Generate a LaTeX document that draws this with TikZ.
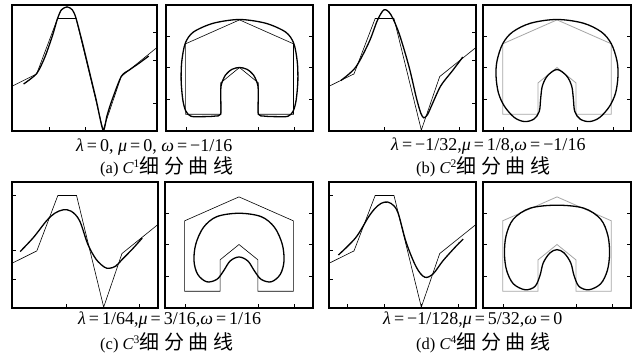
\documentclass[tikz,border=0pt]{standalone}
\usepackage{fontspec}
\setmainfont{Liberation Serif}
\newfontfamily\cjk{Noto Sans CJK SC}
\newcommand\LeftPoly{(0,64.5) -- (17,54.7) -- (31.4,10.7) -- (44.2,10.7) -- (62.8,99.3) -- (75.3,56.8) -- (100,33.7)}
\newcommand\ArchPoly{(13.3,86.7) -- (13.3,30.8) -- (50,11.8) -- (86.7,30.8) -- (86.7,86.7) -- (62.8,86.7) -- (62.8,61.8) -- (50,49.6) -- (37.2,61.8) -- (37.2,86.7) -- cycle}
\newcommand\BoxFrame{\draw[frame] (0,0) rectangle (100,100);}
\newcommand\CapA{\fontsize{18}{18}\selectfont}
\newcommand\CapB{\fontsize{16.5}{16.5}\selectfont}
\newcommand\Zh[4]{{\cjk\fontsize{20}{20}\selectfont #1\kern4.5pt#2\kern4.5pt#3\kern4.5pt#4}}
\begin{document}
\begin{tikzpicture}[x=1pt,y=-1pt,
  frame/.style={line width=2.2pt},
  poly/.style={line width=0.6pt},
  graypoly/.style={line width=0.8pt, gray!70},
  curv/.style={line width=1.3pt},
  tickmark/.style={line width=0.5pt},
  captext/.style={inner sep=0pt, anchor=base west},
]
\useasboundingbox[fill=white] (0,0) rectangle (636,356);

% ---------- (a) ----------
\begin{scope}[shift={(12,5)}, x=1.45pt, y=-1.26pt]
  \begin{scope}
    \clip (0,0) rectangle (100,100);
    \draw[poly] \LeftPoly;
    \draw[curv] plot[smooth, tension=0.45] coordinates {(8,62.7) (17,54.4) (22.7,41.3) (28,24) (31.4,10.7) (34.1,3.8) (38,1.5) (41.6,3.8) (44.2,10.7) (49,32) (53.4,53) (58,75) (62.8,99.3) (65.5,88) (68.5,77) (75.3,56.8) (81,51.5) (87.5,46.3) (94.3,40.5)};
  \end{scope}
  \foreach \u in {25.7,50.7} \draw[tickmark] (\u,100) -- (\u,97);
  \foreach \v in {22,44,78} \draw[tickmark] (100,\v) -- (97,\v);
  \BoxFrame
\end{scope}
\begin{scope}[shift={(166,5)}, x=1.47pt, y=-1.26pt]
  \draw[poly] \ArchPoly;
  \draw[curv] plot[smooth cycle, tension=0.5] coordinates {(50,11.5) (32.1,14.5) (18.6,21.5) (13.1,30.4) (10.7,45) (10.3,60) (11.4,75) (13.4,84) (17,88.3) (25,88.6) (33,88.2) (37.2,86.7) (37.3,76) (37.5,64) (40.5,55.5) (45,51) (50,49.6) (55,51) (59.5,55.5) (62.5,64) (62.7,76) (62.8,86.7) (67,88.2) (75,88.6) (83,88.3) (86.6,84) (88.6,75) (89.7,60) (89.3,45) (86.9,30.4) (81.4,21.5) (67.9,14.5)};
  \foreach \u in {13.5,63,87.5} \draw[tickmark] (\u,100) -- (\u,97);
  \foreach \v in {24.5,49.3,74.7} {\draw[tickmark] (0,\v) -- (3,\v); \draw[tickmark] (100,\v) -- (97,\v);}
  \BoxFrame
\end{scope}
\node[captext] (capa1) at (76,151) {\CapA{\itshape λ}\,=\,0, {\itshape μ}\,=\,0, {\itshape ω}\,=\,−1/16};
\node[captext] (capa2) at (100,173.5) {\CapB(a) {\itshape C}\textsuperscript{1}\Zh{细}{分}{曲}{线}};

% ---------- (b) ----------
\begin{scope}[shift={(329,5)}, x=1.47pt, y=-1.26pt]
  \begin{scope}
    \clip (0,0) rectangle (100,100);
    \draw[poly] \LeftPoly;
    \draw[curv] plot[smooth, tension=0.5] coordinates {(8,60) (18.2,49.3) (27.3,29.3) (33,12) (37.5,3.8) (42,7.5) (47.7,22.7) (54.5,49.3) (59.5,74) (62.5,86) (64.5,89.5) (67,87) (70.5,78) (76.1,64) (84.1,52) (91,41.3)};
  \end{scope}
  \foreach \u in {37.5,88.6} \draw[tickmark] (\u,100) -- (\u,97);
  \foreach \v in {22,44,78} \draw[tickmark] (100,\v) -- (97,\v);
  \BoxFrame
\end{scope}
\begin{scope}[shift={(483,5)}, x=1.48pt, y=-1.26pt]
  \draw[graypoly] \ArchPoly;
  \draw[curv] plot[smooth cycle, tension=0.55] coordinates {(50,11.5) (32.3,14.4) (20,21.4) (13.3,30.8) (9.5,44.2) (8.8,56.3) (10.4,69.7) (14.5,80.4) (21.2,89.3) (28,92.5) (34.3,90.6) (38,84.5) (39,73.7) (40.1,64.3) (43.5,56.3) (50,51.2) (56.5,56.3) (59.9,64.3) (61,73.7) (62,84.5) (65.7,90.6) (72,92.5) (78.8,89.3) (85.5,80.4) (89.6,69.7) (91.2,56.3) (90.5,44.2) (86.7,30.8) (80,21.4) (67.7,14.4)};
  \foreach \u in {13.5,63.9,88} \draw[tickmark] (\u,100) -- (\u,97);
  \foreach \v in {24.5,49.3,74.7} {\draw[tickmark] (0,\v) -- (3,\v); \draw[tickmark] (100,\v) -- (97,\v);}
  \BoxFrame
\end{scope}
\node[captext] (capb1) at (391,150) {\CapA{\itshape λ}\,=\,−1/32,{\itshape μ}\,=\,1/8,{\itshape ω}\,=\,−1/16};
\node[captext] (capb2) at (416,173.5) {\CapB(b) {\itshape C}\textsuperscript{2}\Zh{细}{分}{曲}{线}};

% ---------- (c) ----------
\begin{scope}[shift={(12,182)}, x=1.46pt, y=-1.26pt]
  \begin{scope}
    \clip (0,0) rectangle (100,100);
    \draw[poly] \LeftPoly;
    \draw[curv] plot[smooth, tension=0.55] coordinates {(5.6,55.2) (14.7,44) (23.7,30.7) (29.3,24.8) (35,22.1) (40.6,23.2) (46.3,30.7) (51.9,49.3) (57.6,61.3) (63.2,67.5) (66.6,68.5) (71.1,66.7) (75.6,61.3) (82.4,53.3) (89.2,44.5)};
  \end{scope}
  \foreach \u in {37.2,86.9} \draw[tickmark] (\u,100) -- (\u,97);
  \foreach \v in {10.7,54,77.3} \draw[tickmark] (0,\v) -- (3,\v);
  \BoxFrame
\end{scope}
\begin{scope}[shift={(165,182)}, x=1.48pt, y=-1.26pt]
  \draw[poly] \ArchPoly;
  \draw[curv] plot[smooth cycle, tension=0.55] coordinates {(50,24.8) (35,27.5) (26,36) (20.8,49.3) (19.6,62.7) (22.1,73.3) (28.2,79.2) (35,77.3) (39.5,70.7) (44,62.7) (50,59.5) (56,62.7) (60.5,70.7) (65,77.3) (71.8,79.2) (77.9,73.3) (80.4,62.7) (79.2,49.3) (74,36) (65,27.5)};
  \foreach \u in {13.5,63,87.5} \draw[tickmark] (\u,100) -- (\u,97);
  \foreach \v in {24.5,49.3,74.7} {\draw[tickmark] (0,\v) -- (3,\v); \draw[tickmark] (100,\v) -- (97,\v);}
  \BoxFrame
\end{scope}
\node[captext] (capc1) at (78,324) {\CapA{\itshape λ}\,=\,1/64,{\itshape μ}\,=\,3/16,{\itshape ω}\,=\,1/16};
\node[captext] (capc2) at (100,349.5) {\CapB(c) {\itshape C}\textsuperscript{3}\Zh{细}{分}{曲}{线}};

% ---------- (d) ----------
\begin{scope}[shift={(329,182)}, x=1.47pt, y=-1.26pt]
  \begin{scope}
    \clip (0,0) rectangle (100,100);
    \draw[poly] \LeftPoly;
    \draw[curv] plot[smooth, tension=0.55] coordinates {(6.4,57.9) (18.3,44) (27.4,26.8) (33.1,18.9) (37.7,16) (42.2,17) (46.8,24) (52.5,47.9) (59.4,67.6) (65.1,75.5) (70.8,72.9) (77.6,62.4) (86.8,50.5) (91.3,45.3)};
  \end{scope}
  \foreach \u in {12.5,37.7,62.8,87.9} \draw[tickmark] (\u,100) -- (\u,97);
  \foreach \v in {10.7,54,77.3} \draw[tickmark] (0,\v) -- (3,\v);
  \BoxFrame
\end{scope}
\begin{scope}[shift={(483,182)}, x=1.48pt, y=-1.26pt]
  \draw[graypoly] \ArchPoly;
  \draw[curv] plot[smooth cycle, tension=0.55] coordinates {(50,18.4) (31.8,20.8) (20.5,29.5) (15.6,42.6) (14.5,57.1) (16,70.3) (20.5,80.8) (28.4,85.5) (35.1,82.9) (38.5,74.2) (40.7,64.2) (45.2,56.3) (50,53.7) (54.8,56.3) (59.3,64.2) (61.5,74.2) (64.9,82.9) (71.6,85.5) (79.5,80.8) (84,70.3) (85.5,57.1) (84.4,42.6) (79.5,29.5) (68.2,20.8)};
  \foreach \u in {13.5,63,87.5} \draw[tickmark] (\u,100) -- (\u,97);
  \foreach \v in {24.5,49.3,74.7} {\draw[tickmark] (0,\v) -- (3,\v); \draw[tickmark] (100,\v) -- (97,\v);}
  \BoxFrame
\end{scope}
\node[captext] (capd1) at (383,324) {\CapA{\itshape λ}\,=\,−1/128,{\itshape μ}\,=\,5/32,{\itshape ω}\,=\,0};
\node[captext] (capd2) at (416,349.5) {\CapB(d) {\itshape C}\textsuperscript{4}\Zh{细}{分}{曲}{线}};
\end{tikzpicture}
\end{document}
